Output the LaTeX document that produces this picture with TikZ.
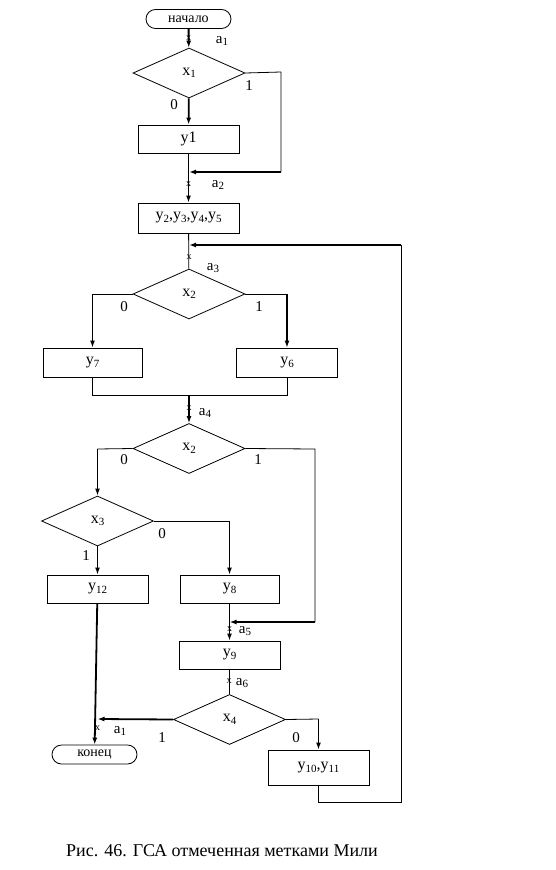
\documentclass[tikz,border=0pt]{standalone}
\usepackage{fontspec}
\setmainfont{Liberation Serif}
\usetikzlibrary{shapes.geometric,shapes.misc,arrows.meta}
\newcommand\lowsub[1]{\raisebox{-0.35ex}{\fontsize{11}{11}\selectfont #1}}
\begin{document}
\begin{tikzpicture}[x=1pt,y=-1pt,
  font=\fontsize{16}{18}\selectfont,
  box/.style={draw, line width=0.8pt, minimum width=101pt, minimum height=28pt, inner sep=0pt},
  term/.style={draw, rounded rectangle, line width=0.8pt, minimum width=85pt, minimum height=19pt, inner sep=0pt, font=\fontsize{14}{16}\selectfont},
  dia/.style={draw, diamond, line width=0.8pt, minimum width=112pt, minimum height=50pt, inner sep=0pt, aspect=2.24},
  fl/.style={line width=0.8pt},
  fk/.style={line width=1.8pt},
  arr/.style={-{Latex[length=7pt,width=5pt]}},
  tick/.style={inner sep=0pt, font=\fontsize{10}{10}\selectfont},
  lbl/.style={inner sep=0pt, font=\fontsize{15}{16}\selectfont}
]
\useasboundingbox (0,0) rectangle (555,870);

% nodes
\node[term] (start) at (188.5,19) {начало};
\node[dia] (x1) at (189,73) {x\lowsub{1}};
\node[box] (y1) at (188.5,139) {y1};
\node[box, minimum height=30pt] (y25) at (188.5,218) {y\lowsub{2},y\lowsub{3},y\lowsub{4},y\lowsub{5}};
\node[dia] (x2a) at (189,294) {x\lowsub{2}};
\node[box, minimum width=99pt, minimum height=29pt] (y7) at (92.5,362.5) {y\lowsub{7}};
\node[box, minimum height=29pt] (y6) at (287,362.5) {y\lowsub{6}};
\node[dia] (x2b) at (189,448.5) {x\lowsub{2}};
\node[dia] (x3) at (97.5,521) {x\lowsub{3}};
\node[box] (y12) at (97.5,589) {y\lowsub{12}};
\node[box, minimum width=99pt] (y8) at (229.5,589) {y\lowsub{8}};
\node[box] (y9) at (229.5,655) {y\lowsub{9}};
\node[dia] (x4) at (229.5,719.5) {x\lowsub{4}};
\node[box, minimum height=35pt] (y10) at (318.5,767.5) {y\lowsub{10},y\lowsub{11}};
\node[term] (end) at (94.5,754.5) {конец};

% coordinates
\coordinate (r1a) at (281,72);
\coordinate (r1) at (281,172);
\coordinate (m1) at (189,172);
\coordinate (fb) at (401,245);
\coordinate (fbe) at (189,245);
\coordinate (l2) at (92.5,294);
\coordinate (r2) at (287,294);
\coordinate (jl) at (92.5,395);
\coordinate (jr) at (287,395);
\coordinate (jm) at (189,395);
\coordinate (l3) at (97.5,449);
\coordinate (r3a) at (315,449);
\coordinate (r3) at (315,622);
\coordinate (m3) at (229.5,622);
\coordinate (r4) at (229.5,521);
\coordinate (m4) at (97.5,719);
\coordinate (r5) at (318.5,719);
\coordinate (b1) at (318.5,802);
\coordinate (b2) at (401,802);

% connectors
\draw[fk,arr] (start) -- (x1);
\draw[fk,arr] (x1) -- (y1);
\draw[fl] (x1.east) -- (r1a) -- (r1);
\draw[fk,arr] (r1) -- (m1);
\draw[fk,arr] (y1) -- (y25);
\draw[fl] (y25) -- (x2a);
\draw[fl] (y10) -- (b1) -- (b2) -- (fb);
\draw[fk,arr] (fb) -- (fbe);
\draw[fl] (x2a.west) -- (l2);
\draw[fk,arr] (l2) -- (y7);
\draw[fl] (x2a.east) -- (r2);
\draw[fk,arr] (r2) -- (y6);
\draw[fl] (y7) -- (jl) -- (jr) -- (y6);
\draw[fk,arr] (jm) -- (x2b);
\draw[fl] (x2b.west) -- (l3);
\draw[fk,arr] (l3) -- (x3);
\draw[fl] (x2b.east) -- (r3a) -- (r3);
\draw[fk,arr] (r3) -- (m3);
\draw[fl] (x3.east) -- (r4);
\draw[fk,arr] (r4) -- (y8);
\draw[fk,arr] (x3) -- (y12);
\draw[fk,arr] (y12) -- (end);
\draw[fk,arr] (x4.west) -- (m4);
\draw[fk,arr] (y8) -- (y9);
\draw[fl] (y9) -- (x4);
\draw[fl] (x4.east) -- (r5);
\draw[fk,arr] (r5) -- (y10);

% tick marks and labels
\node[tick] (t1) at (188.5,38) {x};
\node[lbl] (a1) at (222,41) {a\lowsub{1}};
\node[lbl] (z1) at (174,105) {0};
\node[lbl] (o1) at (249,86) {1};
\node[tick] (t2) at (188.5,184) {x};
\node[lbl] (a2) at (218,185) {a\lowsub{2}};
\node[tick] (t3) at (189,257) {x};
\node[lbl] (a3) at (213,268) {a\lowsub{3}};
\node[lbl] (z2) at (124,307) {0};
\node[lbl] (o2) at (259,307) {1};
\node[tick] (t4) at (189,408) {x};
\node[lbl] (a4) at (205,413) {a\lowsub{4}};
\node[lbl] (z3) at (124,460) {0};
\node[lbl] (o3) at (258,460) {1};
\node[lbl] (z4) at (162,534) {0};
\node[lbl] (o4) at (86,556) {1};
\node[tick] (t5) at (229.5,629) {x};
\node[lbl] (a5) at (245,631) {a\lowsub{5}};
\node[tick] (t6) at (229,681) {x};
\node[lbl] (a6) at (242,683) {a\lowsub{6}};
\node[tick] (t7) at (97.5,728) {x};
\node[lbl] (a7) at (120,731) {a\lowsub{1}};
\node[lbl] (o5) at (162,738) {1};
\node[lbl] (z5) at (296,738) {0};

\node[font=\fontsize{18}{20}\selectfont, inner sep=0pt] (cap) at (222,851) {Рис. 46. ГСА отмеченная метками Мили};
\end{tikzpicture}
\end{document}
